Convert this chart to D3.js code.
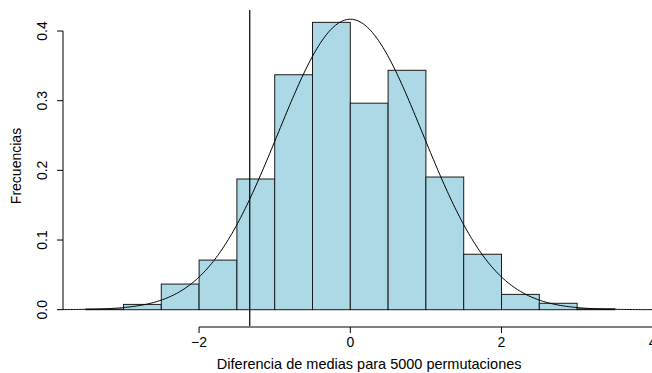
<!DOCTYPE html>
<html>
<head>
<meta charset="utf-8">
<script src="https://cdn.jsdelivr.net/npm/d3@7"></script>
<style>
  html, body { margin: 0; padding: 0; background: #fff; }
  svg { display: block; font-family: "Liberation Sans", Arial, Helvetica, sans-serif; }
</style>
</head>
<body>
<svg id="chart" width="652" height="373"></svg>
<script>
// Histogram bins (left edges, width 0.5) and densities
const binStarts = [-3.5, -3.0, -2.5, -2.0, -1.5, -1.0, -0.5, 0.0, 0.5, 1.0, 1.5, 2.0, 2.5, 3.0];
const densities = [0.0008, 0.0076, 0.0368, 0.0712, 0.1876, 0.3372, 0.4124, 0.2964, 0.3436, 0.1904, 0.0796, 0.0220, 0.0092, 0.0012];
const binWidth = 0.5;
const xTicks = [-2, 0, 2, 4];
const yTicks = [0.0, 0.1, 0.2, 0.3, 0.4];
const observedDiff = -1.33;
const normMean = 0.0;
const normSd = 0.957;
const xLabel = "Diferencia de medias para 5000 permutaciones";
const yLabel = "Frecuencias";

const FS = 14;
const svg = d3.select("#chart");
const x = d3.scaleLinear().domain([-3.8, 4.3]).range([63, 675.4]);
const y = d3.scaleLinear().domain([0, 0.4]).range([309.7, 31]);

// Bars
svg.append("g").selectAll("rect")
  .data(binStarts.map((s, i) => ({s, d: densities[i]})))
  .join("rect")
  .attr("x", d => x(d.s))
  .attr("y", d => y(d.d))
  .attr("width", d => x(d.s + binWidth) - x(d.s))
  .attr("height", d => y(0) - y(d.d))
  .attr("fill", "#ADD8E6")
  .attr("stroke", "#1a1a1a")
  .attr("stroke-width", 1);

// Normal density curve
const curvePts = d3.range(0, 401).map(i => {
  const v = -3.8 + i * (8.1 / 400);
  return [v, Math.exp(-0.5 * ((v - normMean) / normSd) ** 2) / (normSd * Math.sqrt(2 * Math.PI))];
});
svg.append("path")
  .datum(curvePts)
  .attr("fill", "none")
  .attr("stroke", "#000")
  .attr("stroke-width", 1)
  .attr("d", d3.line().x(d => x(d[0])).y(d => y(d[1])));

// Observed difference line
svg.append("line")
  .attr("x1", x(observedDiff)).attr("x2", x(observedDiff))
  .attr("y1", 10).attr("y2", 326)
  .attr("stroke", "#000").attr("stroke-width", 1.2);

// X axis
const xa = svg.append("g").attr("transform", "translate(0,327)");
xa.append("line").attr("x1", x(xTicks[0])).attr("x2", x(xTicks[xTicks.length-1]))
  .attr("stroke", "#000");
xa.selectAll("line.t").data(xTicks).join("line").attr("class", "t")
  .attr("x1", d => x(d)).attr("x2", d => x(d)).attr("y1", 0).attr("y2", 6).attr("stroke", "#000");
xa.selectAll("text").data(xTicks).join("text")
  .attr("x", d => x(d)).attr("y", 20)
  .attr("text-anchor", "middle").attr("font-size", FS)
  .text(d => d3.format("d")(d));

// Y axis
const ya = svg.append("g").attr("transform", "translate(63,0)");
ya.append("line").attr("y1", y(yTicks[0])).attr("y2", y(yTicks[yTicks.length-1])).attr("stroke", "#000");
ya.selectAll("line.t").data(yTicks).join("line").attr("class", "t")
  .attr("x1", 0).attr("x2", -6).attr("y1", d => y(d)).attr("y2", d => y(d)).attr("stroke", "#000");
ya.selectAll("text").data(yTicks).join("text")
  .attr("transform", d => `translate(-16.5,${y(d)}) rotate(-90)`)
  .attr("text-anchor", "middle").attr("font-size", FS)
  .text(d => d3.format(".1f")(d));

// Axis titles
svg.append("text").attr("x", 369.2).attr("y", 368.5).attr("text-anchor", "middle")
  .attr("font-size", 14.5).text(xLabel);
svg.append("text").attr("transform", "translate(20.7,166) rotate(-90)")
  .attr("text-anchor", "middle").attr("font-size", FS).text(yLabel);
</script>
</body>
</html>
